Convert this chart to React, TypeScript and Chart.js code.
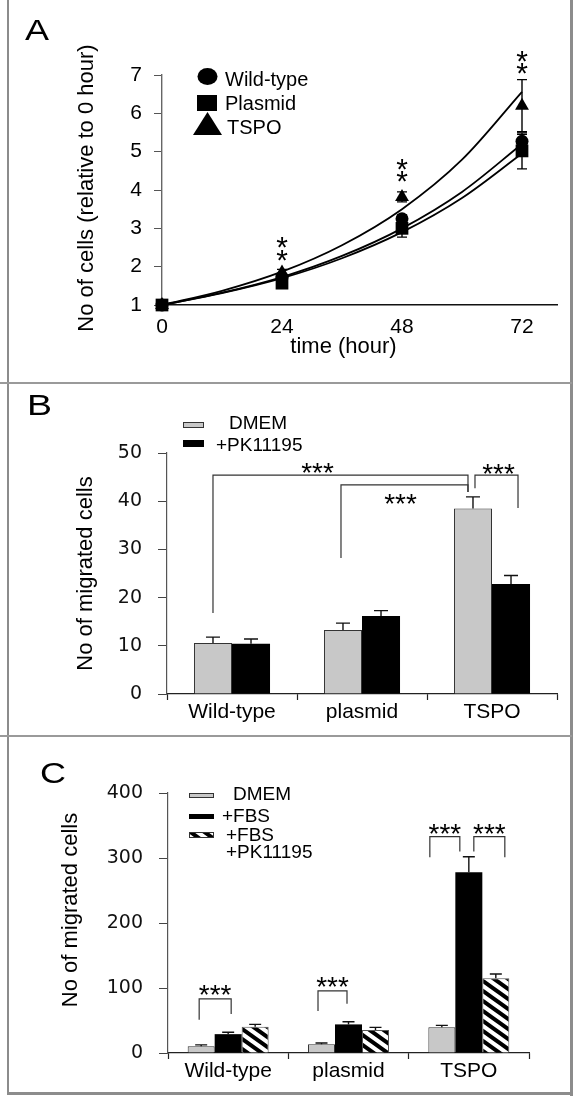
import React, { useEffect, useRef } from 'react';
import { Chart, registerables } from 'chart.js';

Chart.register(...registerables);

const FONT = '"Liberation Sans", Arial, Helvetica, sans-serif';
const WIDE = '"DejaVu Sans", Verdana, sans-serif';
const INK = '#000000';
const GREY_FILL = '#c8c8c8';

// ---------- Panel A : growth curves ----------
const hours = [0, 24, 48, 72];
const hourTicks = [0, 24, 48, 72];
const wildType = [1, 1.72, 3.25, 5.27];
const plasmid = [1, 1.57, 3.0, 5.02];
const tspo = [1, 1.85, 3.82, 6.2];
const wildTypeErr = [0, 0.07, 0.1, 0.18];
const plasmidErr = [0, 0.07, 0.23, 0.47];
const tspoErr = [0, 0.08, 0.13, 0.68];
const fitHours = [0, 12, 24, 36, 48, 60, 72];
const wildTypeFit = [1, 1.32, 1.73, 2.28, 3.0, 3.95, 5.2];
const plasmidFit = [1, 1.31, 1.7, 2.22, 2.9, 3.79, 4.95];
const tspoFit = [1, 1.37, 1.87, 2.56, 3.5, 4.79, 6.56];
const aStarValues = [[], [2.36, 2.7], [4.44, 4.73], [7.24, 7.57]];

// ---------- Panel B : migration with PK11195 ----------
const groups = ['Wild-type', 'plasmid', 'TSPO'];
const bDmem = [10.6, 13.3, 38.5];
const bDmemErr = [1.2, 1.4, 2.4];
const bPk = [10.4, 16.2, 22.8];
const bPkErr = [1.0, 1.1, 1.8];
// [leftDataset, leftGroup, rightDataset, rightGroup, topValue, leftLegEnd, rightLegEnd, starValue]
const bBrackets = [
  [0, 0, 0, 2, 45.4, 16.8, 41.9, 47.3],
  [0, 1, 0, 2, 43.4, 28.2, 41.9, 40.9],
  [0, 2, 1, 2, 45.4, 42.7, 38.6, 47.1],
];
const bBracketShift = [[0, -5, -23], [-2, -5, -4], [2, 7, 2]];

// ---------- Panel C : migration with FBS ----------
const cDmem = [10.5, 13.5, 39.5];
const cDmemErr = [2, 2, 3];
const cFbs = [29, 44, 278];
const cFbsErr = [3, 4, 24];
const cFbsPk = [40.5, 35.5, 115];
const cFbsPkErr = [3.5, 4, 6.5];
const cBrackets = [
  [0, 0, 1, 0, 83.3, 51, 60, 100.3],
  [0, 1, 1, 1, 95.7, 64.8, 75.6, 112.7],
  [0, 2, 1, 2, 333, 301, 310, 348.8],
  [1, 2, 2, 2, 333, 310, 301, 348.8],
];
const cBracketShift = [[-2, 3, 0], [-3.5, -1.5, 0], [-12, -9, 0], [5, 9, 0]];

type Ctx = CanvasRenderingContext2D;

function drawText(ctx: Ctx, s: string, x: number, y: number, size: number, align: CanvasTextAlign = 'left', baseline: CanvasTextBaseline = 'middle', sx = 1, family = FONT) {
  ctx.save();
  ctx.translate(x, y);
  ctx.scale(sx, 1);
  ctx.font = `${size}px ${family}`;
  ctx.textAlign = align;
  ctx.textBaseline = baseline;
  ctx.fillStyle = INK;
  ctx.fillText(s, 0, 0);
  ctx.restore();
}

function drawVText(ctx: Ctx, s: string, cx: number, cy: number, size: number) {
  ctx.save();
  ctx.translate(cx, cy);
  ctx.rotate(-Math.PI / 2);
  drawText(ctx, s, 0, 0, size, 'center', 'middle');
  ctx.restore();
}

function drawStars(ctx: Ctx, s: string, cx: number, cy: number, size: number) {
  drawText(ctx, s, cx, cy + size * 0.58, size, 'center', 'alphabetic');
}

function makeHatch(ctx: Ctx): CanvasPattern | string {
  const w = 14, h = 10;
  const c = document.createElement('canvas');
  c.width = w; c.height = h;
  const g = c.getContext('2d')!;
  g.fillStyle = '#fff';
  g.fillRect(0, 0, w, h);
  g.strokeStyle = '#000';
  g.lineWidth = 4;
  g.beginPath();
  for (let k = -1; k <= 1; k++) {
    g.moveTo(-w + k * w, -h);
    g.lineTo(2 * w + k * w, 2 * h);
  }
  g.stroke();
  return ctx.createPattern(c, 'repeat') || '#fff';
}

const panelAPlugin = {
  id: 'panelA',
  afterDraw(chart: any) {
    const ctx: Ctx = chart.ctx;
    const xs = chart.scales.x, ys = chart.scales.y;
    ctx.save();
    ctx.strokeStyle = '#000';
    ctx.lineWidth = 1.4;
    const sets: [number[], number[]][] = [[wildType, wildTypeErr], [plasmid, plasmidErr], [tspo, tspoErr]];
    for (const [vals, errs] of sets) {
      vals.forEach((v, i) => {
        const e = errs[i];
        if (!e) return;
        const px = xs.getPixelForValue(hours[i]);
        const t = ys.getPixelForValue(v + e), b = ys.getPixelForValue(v - e);
        ctx.beginPath();
        ctx.moveTo(px, t); ctx.lineTo(px, b);
        ctx.moveTo(px - 5, t); ctx.lineTo(px + 5, t);
        ctx.moveTo(px - 5, b); ctx.lineTo(px + 5, b);
        ctx.stroke();
      });
    }
    aStarValues.forEach((list, i) => list.forEach((v) => drawStars(ctx, '*', xs.getPixelForValue(hours[i]), ys.getPixelForValue(v), 30)));

    drawText(ctx, 'A', 25, 40, 30, 'left', 'alphabetic', 1.2);
    drawVText(ctx, 'No of cells (relative to 0 hour)', 87, 188, 22);
    drawText(ctx, 'time (hour)', 343.5, 347, 22, 'center');

    ctx.fillStyle = '#000';
    ctx.beginPath();
    ctx.ellipse(207.5, 76.5, 10, 8.5, 0, 0, Math.PI * 2);
    ctx.fill();
    ctx.fillRect(197, 95, 20, 16);
    ctx.beginPath();
    ctx.moveTo(207.5, 112); ctx.lineTo(222, 135); ctx.lineTo(193, 135); ctx.closePath();
    ctx.fill();
    drawText(ctx, 'Wild-type', 225, 80, 20);
    drawText(ctx, 'Plasmid', 225, 104, 20);
    drawText(ctx, 'TSPO', 227, 128, 20);
    ctx.restore();
  },
};

function barErrors(chart: any, errs: number[][], values: number[][], cap: number) {
  const ctx: Ctx = chart.ctx;
  const ys = chart.scales.y;
  ctx.strokeStyle = '#111';
  ctx.lineWidth = 1.4;
  errs.forEach((list, d) => {
    const meta = chart.getDatasetMeta(d);
    list.forEach((e, i) => {
      const el = meta.data[i];
      const top = ys.getPixelForValue(values[d][i] + e);
      const base = ys.getPixelForValue(values[d][i]);
      ctx.beginPath();
      ctx.moveTo(el.x, base); ctx.lineTo(el.x, top);
      ctx.moveTo(el.x - cap / 2, top); ctx.lineTo(el.x + cap / 2, top);
      ctx.stroke();
    });
  });
}

function brackets(chart: any, list: number[][], shifts: number[][], starSize: number) {
  const ctx: Ctx = chart.ctx;
  const ys = chart.scales.y;
  list.forEach((br, k) => {
    const [ld, lg, rd, rg, top, lEnd, rEnd, starV] = br;
    const sh = shifts[k];
    const xl = chart.getDatasetMeta(ld).data[lg].x + sh[0];
    const xr = chart.getDatasetMeta(rd).data[rg].x + sh[1];
    ctx.strokeStyle = '#333';
    ctx.lineWidth = 1.2;
    ctx.beginPath();
    ctx.moveTo(xl, ys.getPixelForValue(lEnd));
    ctx.lineTo(xl, ys.getPixelForValue(top));
    ctx.lineTo(xr, ys.getPixelForValue(top));
    ctx.lineTo(xr, ys.getPixelForValue(rEnd));
    ctx.stroke();
    drawStars(ctx, '***', (xl + xr) / 2 + sh[2], ys.getPixelForValue(starV), starSize);
  });
}

const panelBPlugin = {
  id: 'panelB',
  afterDraw(chart: any) {
    const ctx: Ctx = chart.ctx;
    ctx.save();
    barErrors(chart, [bDmemErr, bPkErr], [bDmem, bPk], 14);
    brackets(chart, bBrackets, bBracketShift, 28);
    drawText(ctx, 'B', 27, 32, 30, 'left', 'alphabetic', 1.25);
    drawVText(ctx, 'No of migrated cells', 86, 190.5, 22);
    ctx.fillStyle = GREY_FILL;
    ctx.fillRect(183, 39, 21, 6);
    ctx.strokeStyle = '#333';
    ctx.lineWidth = 1;
    ctx.strokeRect(183.5, 39.5, 20, 5);
    ctx.fillStyle = '#000';
    ctx.fillRect(183, 57, 21, 7);
    drawText(ctx, 'DMEM', 229, 41, 19);
    drawText(ctx, '+PK11195', 216, 63, 19);
    ctx.restore();
  },
};

function makePanelCPlugin(hatch: CanvasPattern | string) {
  return {
    id: 'panelC',
    afterDraw(chart: any) {
      const ctx: Ctx = chart.ctx;
      ctx.save();
      barErrors(chart, [cDmemErr, cFbsErr, cFbsPkErr], [cDmem, cFbs, cFbsPk], 12);
      brackets(chart, cBrackets, cBracketShift, 28);
      drawText(ctx, 'C', 40, 47, 30, 'left', 'alphabetic', 1.2);
      drawVText(ctx, 'No of migrated cells', 71, 174, 22);
      ctx.fillStyle = GREY_FILL;
      ctx.fillRect(189, 57, 25, 5);
      ctx.strokeStyle = '#333';
      ctx.lineWidth = 1;
      ctx.strokeRect(189.5, 57.5, 24, 4);
      ctx.fillStyle = '#000';
      ctx.fillRect(189, 78, 25, 5);
      ctx.fillStyle = hatch as any;
      ctx.fillRect(189, 96, 25, 6);
      ctx.strokeRect(189.5, 96.5, 24, 5);
      drawText(ctx, 'DMEM', 233, 59, 19);
      drawText(ctx, '+FBS', 222, 81, 19);
      drawText(ctx, '+FBS', 226, 100, 19);
      drawText(ctx, '+PK11195', 226, 117, 19);
      ctx.restore();
    },
  };
}

function configA(): any {
  const pts = (vals: number[]) => hours.map((h, i) => ({ x: h, y: vals[i] }));
  const fit = (vals: number[]) => fitHours.map((h, i) => ({ x: h, y: vals[i] }));
  const curve = (label: string, vals: number[]) => ({
    label, data: fit(vals), showLine: true, pointRadius: 0, borderColor: '#000', borderWidth: 1.8,
    tension: 0.4, cubicInterpolationMode: 'monotone', fill: false,
  });
  return {
    type: 'scatter',
    data: {
      datasets: [
        { label: 'Wild-type', data: pts(wildType), pointStyle: 'circle', pointRadius: 6.5, backgroundColor: '#000', borderColor: '#000', borderWidth: 0, clip: false },
        { label: 'Plasmid', data: pts(plasmid), pointStyle: 'rect', pointRadius: 9, backgroundColor: '#000', borderColor: '#000', borderWidth: 0, clip: false },
        { label: 'TSPO', data: pts(tspo), pointStyle: 'triangle', pointRadius: 8, backgroundColor: '#000', borderColor: '#000', borderWidth: 0, clip: false },
        curve('Wild-type fit', wildTypeFit),
        curve('Plasmid fit', plasmidFit),
        curve('TSPO fit', tspoFit),
      ],
    },
    options: {
      responsive: false, animation: false, devicePixelRatio: 1,
      layout: { padding: { left: 0, right: 17, top: 75, bottom: 0 } },
      plugins: { legend: { display: false }, tooltip: { enabled: false } },
      scales: {
        x: {
          type: 'linear', min: 0, max: 79,
          afterBuildTicks: (s: any) => { s.ticks = hourTicks.map((v) => ({ value: v })); },
          grid: { drawOnChartArea: false, drawTicks: false },
          border: { color: '#111', width: 1.4 },
          ticks: { color: INK, font: { family: FONT, size: 21 }, padding: 10, maxRotation: 0 },
          afterFit: (s: any) => { s.height = 78; },
        },
        y: {
          min: 1, max: 7,
          ticks: { stepSize: 1, color: INK, font: { family: FONT, size: 21 }, padding: 12 },
          grid: { drawOnChartArea: false, tickLength: 8, tickColor: '#555' },
          border: { color: '#666', width: 1.4 },
          afterFit: (s: any) => { s.width = 162; },
        },
      },
    },
    plugins: [panelAPlugin],
  };
}

function barScales(yMax: number, yStep: number, yWidth: number, xHeight: number) {
  return {
    x: {
      type: 'category',
      grid: { drawOnChartArea: false, offset: true, tickLength: 6, tickColor: '#222', tickWidth: 1.2 },
      border: { color: '#222', width: 1.2 },
      ticks: { color: INK, font: { family: FONT, size: 21 }, padding: 0, maxRotation: 0, autoSkip: false },
      afterFit: (s: any) => { s.height = xHeight; },
    },
    y: {
      min: 0, max: yMax,
      ticks: { stepSize: yStep, color: '#111', font: { family: WIDE, size: 19 }, padding: 16 },
      grid: { drawOnChartArea: false, tickLength: 9, tickColor: '#444' },
      border: { color: '#555', width: 1.2 },
      afterFit: (s: any) => { s.width = yWidth; },
    },
  };
}

function configB(): any {
  return {
    type: 'bar',
    data: {
      labels: groups,
      datasets: [
        { label: 'DMEM', data: bDmem, backgroundColor: GREY_FILL, borderColor: '#333', borderWidth: 1, categoryPercentage: 0.585, barPercentage: 1 },
        { label: '+PK11195', data: bPk, backgroundColor: '#000', borderColor: '#000', borderWidth: 0, categoryPercentage: 0.585, barPercentage: 1 },
      ],
    },
    options: {
      responsive: false, animation: false, devicePixelRatio: 1,
      layout: { padding: { left: 0, right: 17, top: 70, bottom: 0 } },
      plugins: { legend: { display: false }, tooltip: { enabled: false } },
      scales: barScales(50, 10, 167, 42),
    },
    plugins: [panelBPlugin],
  };
}

function configC(hatch: CanvasPattern | string): any {
  return {
    type: 'bar',
    data: {
      labels: groups,
      datasets: [
        { label: 'DMEM', data: cDmem, backgroundColor: GREY_FILL, borderColor: '#333', borderWidth: 1, categoryPercentage: 0.673, barPercentage: 1 },
        { label: '+FBS', data: cFbs, backgroundColor: '#000', borderColor: '#000', borderWidth: 0, categoryPercentage: 0.673, barPercentage: 1 },
        { label: '+FBS +PK11195', data: cFbsPk, backgroundColor: hatch, borderColor: '#555', borderWidth: 1, categoryPercentage: 0.673, barPercentage: 1 },
      ],
    },
    options: {
      responsive: false, animation: false, devicePixelRatio: 1,
      layout: { padding: { left: 0, right: 45, top: 57, bottom: 0 } },
      plugins: { legend: { display: false }, tooltip: { enabled: false } },
      scales: barScales(400, 100, 168, 44),
    },
    plugins: [makePanelCPlugin(hatch)],
  };
}

export default function App() {
  const aRef = useRef<HTMLCanvasElement>(null);
  const bRef = useRef<HTMLCanvasElement>(null);
  const cRef = useRef<HTMLCanvasElement>(null);

  useEffect(() => {
    const charts: Chart[] = [];
    if (aRef.current) charts.push(new Chart(aRef.current, configA()));
    if (bRef.current) charts.push(new Chart(bRef.current, configB()));
    if (cRef.current) {
      const hatch = makeHatch(cRef.current.getContext('2d')!);
      charts.push(new Chart(cRef.current, configC(hatch)));
    }
    return () => charts.forEach((c) => c.destroy());
  }, []);

  const cv = (top: number, h: number): React.CSSProperties => ({ position: 'absolute', left: 0, top, width: 574, height: h, display: 'block' });
  const line = (left: number, top: number, width: number, height: number, color: string): React.CSSProperties => ({ position: 'absolute', left, top, width, height, background: color });

  return (
    <div style={{ position: 'absolute', left: 0, top: 0, width: 574, height: 1097, background: '#fff', overflow: 'hidden' }}>
      <canvas ref={aRef} width={574} height={383} style={cv(0, 383)} />
      <canvas ref={bRef} width={574} height={353} style={cv(383, 353)} />
      <canvas ref={cRef} width={574} height={361} style={cv(736, 361)} />
      <div style={line(7, 0, 2, 1095, '#8c8c8c')} />
      <div style={line(570, 0, 3, 1096, '#8c8c8c')} />
      <div style={line(7, 1092, 566, 3, '#8c8c8c')} />
      <div style={line(0, 382, 572, 2, '#9a9a9a')} />
      <div style={line(0, 735, 572, 2, '#9a9a9a')} />
    </div>
  );
}
